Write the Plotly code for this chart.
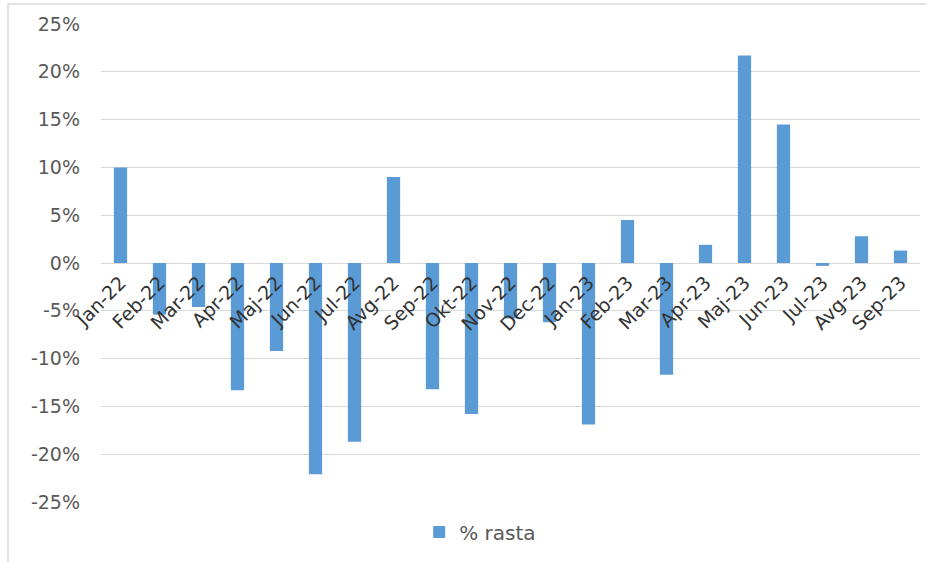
import plotly.graph_objects as go

# monthly change, % rasta
months = ['Jan-22', 'Feb-22', 'Mar-22', 'Apr-22', 'Maj-22', 'Jun-22', 'Jul-22',
          'Avg-22', 'Sep-22', 'Okt-22', 'Nov-22', 'Dec-22', 'Jan-23', 'Feb-23',
          'Mar-23', 'Apr-23', 'Maj-23', 'Jun-23', 'Jul-23', 'Avg-23', 'Sep-23']
rast = [10.0, -5.4, -4.6, -13.3, -9.2, -22.1, -18.7,
        9.0, -13.2, -15.8, -5.8, -6.2, -16.9, 4.5,
        -11.7, 1.9, 21.7, 14.5, -0.3, 2.8, 1.3]
y_ticks = [-25, -20, -15, -10, -5, 0, 5, 10, 15, 20, 25]
y_labels = [f"{t}%" for t in y_ticks]

W, H = 931, 562
ML, MR, MT, MB = 101, 11, 24, 60

fig = go.Figure()
fig.add_trace(go.Bar(
    x=months,
    y=rast,
    name='% rasta',
    marker=dict(color='#5B9BD5', line=dict(width=0)),
))

font = dict(family='DejaVu Sans, Verdana, sans-serif', size=19, color='#595959')

fig.update_layout(
    width=W,
    height=H,
    margin=dict(l=ML, r=MR, t=MT, b=MB, autoexpand=False),
    paper_bgcolor='white',
    plot_bgcolor='white',
    font=font,
    bargap=0.66,
    showlegend=True,
    legend=dict(
        orientation='h',
        x=0.463,
        xanchor='center',
        y=-0.022,
        yanchor='top',
        font=dict(family='DejaVu Sans, Verdana, sans-serif', size=20, color='#595959'),
        itemwidth=30,
    ),
    xaxis=dict(
        type='category',
        anchor='free',
        position=0.5,
        tickangle=-45,
        showgrid=False,
        showline=False,
        ticks='',
        ticklabelstandoff=4,
        tickfont=dict(family='DejaVu Sans, Verdana, sans-serif', size=19, color='#333333'),
    ),
    yaxis=dict(
        range=[-25, 25],
        tickvals=y_ticks,
        ticktext=y_labels,
        showgrid=True,
        gridcolor='#D9D9D9',
        gridwidth=1,
        zeroline=True,
        zerolinecolor='#D9D9D9',
        zerolinewidth=1,
        showline=False,
        ticks='',
        ticklabelstandoff=20,
        tickfont=font,
    ),
)

# outer chart frame (partly cropped in the original screenshot)
pw = W - ML - MR
ph = H - MT - MB
fig.add_shape(
    type='path',
    xref='paper', yref='paper',
    path=(f"M {(8 - ML) / pw} {(H - MB - H - 5) / ph} "
          f"L {(8 - ML) / pw} {(H - MB - 4) / ph} "
          f"L {(926 - ML) / pw} {(H - MB - 4) / ph}"),
    line=dict(color='#D9D9D9', width=1.5),
)

# drop the browser's default body margin so the figure sits at the page corner
fig.write_html("out.html", config={'displayModeBar': False},
               post_script="document.body.style.margin='0';")
